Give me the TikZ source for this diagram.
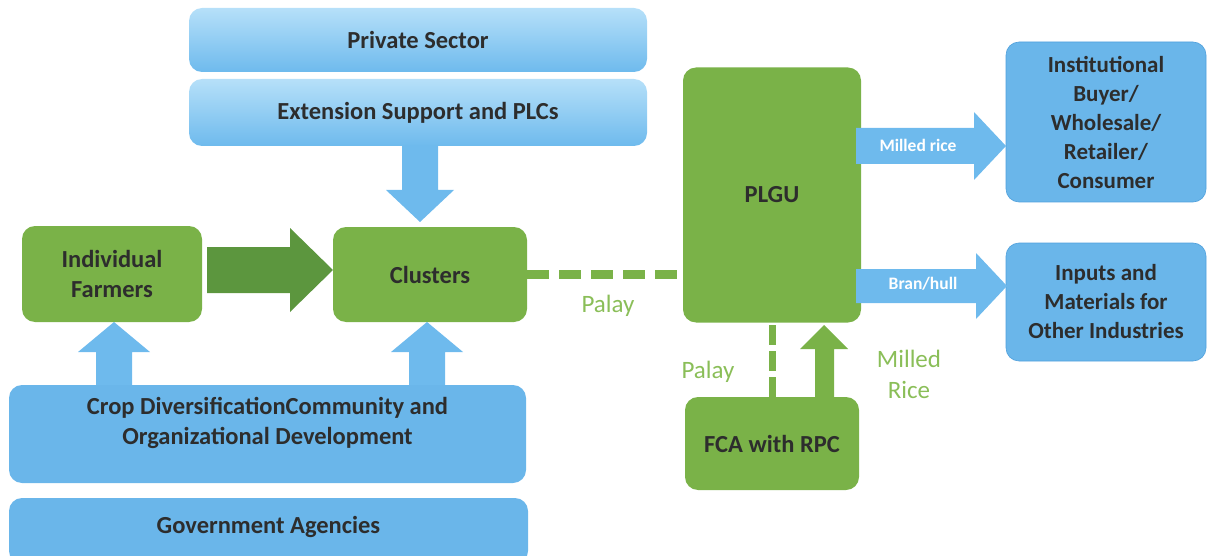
\documentclass[tikz,border=0pt]{standalone}
\usepackage{fontspec}
\setmainfont{Carlito}
\usetikzlibrary{calc}
\definecolor{bluelight}{RGB}{182,224,249}
\definecolor{bluemid}{RGB}{110,186,237}
\definecolor{bluebox}{RGB}{106,182,234}
\definecolor{blueedge}{RGB}{80,160,220}
\definecolor{greenbox}{RGB}{122,178,72}
\definecolor{greendark}{RGB}{92,150,62}
\definecolor{greentext}{RGB}{138,190,88}
\definecolor{txt}{RGB}{45,45,45}
\begin{document}
\begin{tikzpicture}[x=1pt,y=-1pt,
  box/.style={rounded corners=13pt, inner sep=0pt, align=center, text=txt,
    font=\bfseries\fontsize{24.5}{30}\selectfont},
  gradbox/.style={box, top color=bluelight, bottom color=bluemid, draw=none},
  bluefill/.style={box, fill=bluebox},
  greenfill/.style={box, fill=greenbox},
  blockblue/.style={fill=bluemid, draw=none},
  blockgreen/.style={fill=greenbox, draw=none},
  blockdark/.style={fill=greendark, draw=none},
  dashgreen/.style={draw=greenbox, line width=9pt, dash pattern=on 22pt off 10pt},
  dashgreenv/.style={draw=greenbox, line width=7pt, dash pattern=on 20pt off 6pt},
  arrowlabel/.style={text=white, font=\bfseries\fontsize{17.5}{20}\selectfont, inner sep=0pt},
  greenlabel/.style={text=greentext, font=\fontsize{25}{31}\selectfont, align=center, inner sep=0pt}
]
\useasboundingbox (0,0) rectangle (1207,556);

% boxes
\node[gradbox, minimum width=458pt, minimum height=64pt] (private) at (418,40) {Private Sector};
\node[gradbox, minimum width=458pt, minimum height=67pt] (ext) at (418,112.5) {Extension Support and PLCs};
\node[greenfill, minimum width=180pt, minimum height=96pt] (farmers) at (112,274) {Individual\\Farmers};
\node[greenfill, minimum width=194pt, minimum height=95pt] (clusters) at (430,274.5) {Clusters};
\node[greenfill, minimum width=178pt, minimum height=255pt] (plgu) at (772,195) {PLGU};
\node[bluefill, draw=blueedge, line width=0.6pt, minimum width=200pt, minimum height=160pt,
  font=\bfseries\fontsize{23}{29}\selectfont] (inst) at (1106,122) {Institutional\\Buyer/\\Wholesale/\\Retailer/\\Consumer};
\node[bluefill, draw=blueedge, line width=0.6pt, minimum width=200pt, minimum height=118pt,
  font=\bfseries\fontsize{23}{29}\selectfont] (inputs) at (1106,302) {Inputs and\\Materials for\\Other Industries};
\node[greenfill, minimum width=174pt, minimum height=93pt] (fca) at (772,443.5) {FCA with RPC};
\node[bluefill, minimum width=517pt, minimum height=98pt] (crop) at (267.5,434) {};
\node[box, align=center] (croptext) at ($(crop.center)+(0,-11)$) {Crop DiversificationCommunity and\\Organizational Development};
\node[bluefill, minimum width=519pt, minimum height=66pt] (gov) at (268.5,531) {};
\node[box] (govtext) at (268.5,527) {Government Agencies};

% block arrows
\draw[blockblue] (402,146) -- (438,146) -- (438,190) -- (454,190) -- (420,222) -- (386,190) -- (402,190) -- cycle;
\draw[blockdark] (207,247) -- (290,247) -- (290,228) -- (333,270) -- (290,312) -- (290,293) -- (207,293) -- cycle;
\draw[blockblue] (96,385) -- (96,352) -- (78,352) -- (114,322) -- (150,352) -- (132,352) -- (132,385) -- cycle;
\draw[blockblue] (409,385) -- (409,352) -- (391,352) -- (427,322) -- (463,352) -- (445,352) -- (445,385) -- cycle;
\draw[blockblue] (856,128) -- (974,128) -- (974,112) -- (1006,146) -- (974,180) -- (974,164) -- (856,164) -- cycle;
\draw[blockblue] (856,269) -- (976,269) -- (976,253) -- (1007,286) -- (976,319) -- (976,303) -- (856,303) -- cycle;
\draw[blockgreen] (815,397) -- (815,349) -- (800,349) -- (824,325) -- (848,349) -- (834,349) -- (834,397) -- cycle;

\node[arrowlabel] (lmilled) at (918,145) {Milled rice};
\node[arrowlabel] (lbran) at (923,284) {Bran/hull};

% dashed connectors
\draw[dashgreen] (clusters.east) -- (clusters.east -| plgu.west);
\draw[dashgreenv] (fca.north) -- (fca.north |- plgu.south);

% green labels
\node[greenlabel] (palay1) at (608,306) {Palay};
\node[greenlabel] (palay2) at (708,372) {Palay};
\node[greenlabel] (milledrice) at (909,374) {Milled\\Rice};
\end{tikzpicture}
\end{document}
